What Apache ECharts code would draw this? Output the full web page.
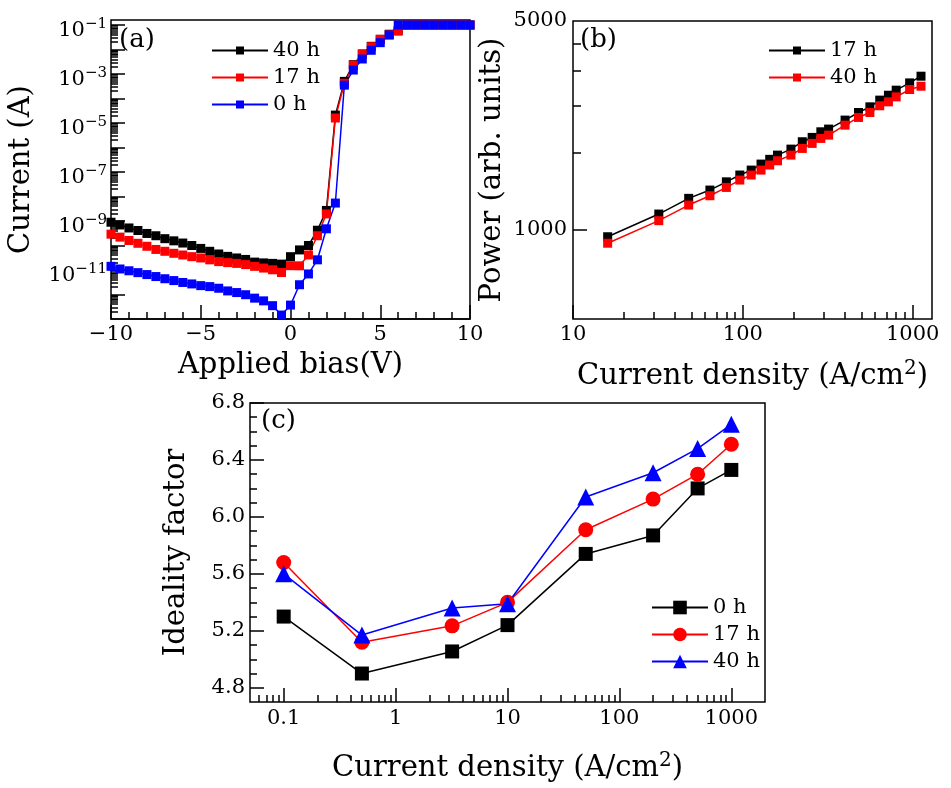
<!DOCTYPE html>
<html><head><meta charset="utf-8">
<script src="https://cdn.jsdelivr.net/npm/echarts@6/dist/echarts.min.js"></script>
<style>html,body{margin:0;padding:0;background:#fff}#c{width:951px;height:788px}</style>
</head><body><div id="c"></div>
<script>
// ---------- data: panel (a) I-V ----------
const aV = [-10,-9.5,-9,-8.5,-8,-7.5,-7,-6.5,-6,-5.5,-5,-4.5,-4,-3.5,-3,-2.5,-2,-1.5,-1,-0.5,
            0,0.5,1,1.5,2,2.5,3,3.5,4,4.5,5,5.5,6,6.5,7,7.5,8,8.5,9,9.5,10];
const aI40 = [8.9e-10,6.9e-10,5.2e-10,4.1e-10,3.1e-10,2.5e-10,1.9e-10,1.55e-10,1.26e-10,1.0e-10,
              7.6e-11,5.8e-11,4.5e-11,3.6e-11,3.1e-11,2.7e-11,2.1e-11,1.95e-11,1.86e-11,1.74e-11,
              3.5e-11,6.6e-11,1.0e-10,4.2e-10,2.7e-9,2.1e-5,5.0e-4,2.4e-3,6.6e-3,1.35e-2,2.6e-2,4.2e-2,6.0e-2,
              0.1,0.1,0.1,0.1,0.1,0.1,0.1,0.1];
const aI17 = [2.9e-10,2.2e-10,1.6e-10,1.23e-10,9.3e-11,6.9e-11,5.8e-11,4.8e-11,4.1e-11,3.5e-11,
              3.1e-11,2.6e-11,2.2e-11,2.0e-11,1.86e-11,1.66e-11,1.41e-11,1.2e-11,1.02e-11,7.9e-12,
              1.5e-11,1.48e-11,4.1e-11,2.5e-10,1.95e-9,1.6e-5,4.2e-4,2.3e-3,6.3e-3,1.3e-2,2.6e-2,4.0e-2,5.6e-2,
              0.1,0.1,0.1,0.1,0.1,0.1,0.1,0.1];
const aI0  = [1.41e-11,1.1e-11,9.3e-12,7.8e-12,6.5e-12,5.4e-12,4.4e-12,3.7e-12,3.1e-12,2.7e-12,
              2.3e-12,2.1e-12,1.8e-12,1.4e-12,1.2e-12,9.8e-13,7.1e-13,5.5e-13,3.5e-13,1.45e-13,
              3.7e-13,2.5e-12,6.9e-12,2.6e-11,4.8e-10,5.4e-9,3.5e-4,1.45e-3,4.1e-3,9.3e-3,1.9e-2,3.9e-2,
              0.1,0.1,0.1,0.1,0.1,0.1,0.1,0.1,0.1];
const aYLabelExp = [-11,-9,-7,-5,-3,-1];
const aYMajorExp = [-12,-11,-10,-9,-8,-7,-6,-5,-4,-3,-2,-1];

// ---------- data: panel (b) power ----------
const bJ   = [16,32,48,64,80,96,112,128,144,160,192,224,256,288,320,400,480,560,640,720,800,960,1120];
const bP17 = [944,1125,1270,1354,1443,1521,1580,1655,1717,1774,1858,1967,2034,2124,2169,2325,2466,2576,2713,2818,2930,3099,3264];
const bP40 = [898,1069,1206,1296,1382,1463,1521,1580,1643,1698,1774,1868,1942,2018,2070,2236,2373,2466,2597,2677,2782,2945,3021];
const bXTicks = [10,100,1000];
const bYLabels = [1000,5000];
const bYMinor = [1800,2600,3400,4200];

// ---------- data: panel (c) ideality factor ----------
const cJ   = [0.1,0.5,3.2,10,50,200,500,1000];
const cN0  = [5.30,4.90,5.055,5.24,5.74,5.87,6.20,6.33];
const cN17 = [5.68,5.12,5.235,5.40,5.91,6.125,6.30,6.51];
const cN40 = [5.60,5.17,5.36,5.39,6.14,6.31,6.48,6.65];
const cXTicks = [0.1,1,10,100,1000];
const cXLabels = ['0.1','1','10','100','1000'];
const cYTicks = [4.8,5.2,5.6,6.0,6.4,6.8];
const cYMinor = [4.9,5.0,5.1,5.3,5.4,5.5,5.7,5.8,5.9,6.1,6.2,6.3,6.5,6.6,6.7];

// ---------- layout / style ----------
const FF = 'DejaVu Serif';
const TICK = 21, TITLE = 29;
const gA = {left:111, top:20, width:359, height:299};
const gB = {left:573, top:21, width:359, height:298};
const gC = {left:250, top:403, width:515, height:299};
const lg = Math.log10;
const MINUS = '\u2212';
const tickLine = {color:'#000', width:1.5};

function logMinors(nFrom, nTo, lo, hi) {
  const out = [];
  for (let n = nFrom; n <= nTo; n++) for (let k = 2; k <= 9; k++) {
    const v = n + lg(k);
    if (v > lo + 1e-9 && v < hi - 1e-9) out.push(v);
  }
  return out;
}
function grid(r, show) {
  return Object.assign({show: show, borderColor:'#000', borderWidth:1.5,
    backgroundColor:'transparent', containLabel:false, outerBoundsMode:'none'}, r);
}
const hidden = (gi) => ({type:'value', gridIndex:gi, show:false, min:0, max:1, axisLine:{onZero:false}});
function tickAxis(gi, min, max, ticks, len, extra) {
  return Object.assign({
    type:'value', gridIndex:gi, min:min, max:max,
    axisLine:{show:false, onZero:false}, splitLine:{show:false},
    axisTick:{show:true, inside:true, length:len, customValues:ticks, lineStyle:tickLine},
    axisLabel:{show:false}
  }, extra || {});
}
const nameStyle = {fontFamily:FF, fontSize:TITLE, color:'#000',
  rich:{t:{fontFamily:FF, fontSize:TITLE, color:'#000'}, s:{fontFamily:FF, fontSize:20, color:'#000', verticalAlign:'top', lineHeight:34}}};
const cmName = '{t|Current density (A/cm}{s|2}{t|)}';

const aMin = 1e-13, aMax = 0.16;
const bXMin = 10, bXMax = 1300, bYMin = 500, bYMax = 5000;
const cXMin = 0.05, cXMax = 2000, cYMin = 4.7, cYMax = 6.8;

function lineSeries(name, xi, yi, data, color, symbol, size) {
  return {type:'line', name:name, xAxisIndex:xi, yAxisIndex:yi, data:data,
    symbol:symbol, symbolSize:size, showSymbol:true, clip:false,
    itemStyle:{color:color}, lineStyle:{color:color, width:1.5},
    emphasis:{disabled:true}, animation:false};
}
const pairs = (xs, ys) => xs.map((x, i) => [x, ys[i]]);

const legendBase = {orient:'vertical', itemWidth:56, itemGap:6, selectedMode:false,
  textStyle:{fontFamily:FF, fontSize:21, color:'#000', lineHeight:21},
  formatter: n => n.slice(2)};
const panelTitle = {fontFamily:FF, fontSize:26, fontWeight:'normal', color:'#000'};

const option = {
  animation:false,
  backgroundColor:'#fff',
  textStyle:{fontFamily:FF},
  title:[
    {text:'(a)', left:119, top:27, padding:0, textStyle:panelTitle},
    {text:'(b)', left:580, top:27, padding:0, textStyle:panelTitle},
    {text:'(c)', left:261, top:408, padding:0, textStyle:panelTitle}
  ],
  legend:[
    Object.assign({}, legendBase, {left:206, top:35, itemHeight:10, data:['a|40 h','a|17 h','a|0 h']}),
    Object.assign({}, legendBase, {left:763, top:35, itemHeight:10, data:['b|17 h','b|40 h']}),
    Object.assign({}, legendBase, {left:646, top:592, itemHeight:17, data:['c|0 h','c|17 h','c|40 h']})
  ],
  grid:[grid(gA,true), grid(gA,false), grid(gA,false),
        grid(gB,true), grid(gB,false), grid(gB,false),
        grid(gC,true), grid(gC,false), grid(gC,false)],
  xAxis:[
    {type:'value', gridIndex:0, min:-10, max:10, interval:5,
     axisLine:{show:true, onZero:false, lineStyle:tickLine},
     axisTick:{show:true, inside:true, length:14, lineStyle:tickLine},
     minorTick:{show:true, splitNumber:5, length:7, lineStyle:tickLine},
     splitLine:{show:false}, minorSplitLine:{show:false},
     axisLabel:{color:'#000', fontFamily:FF, fontSize:TICK, margin:5,
       formatter: v => v < 0 ? MINUS + (-v) : String(v)},
     name:'Applied bias(V)', nameLocation:'middle', nameGap:32, nameTextStyle:nameStyle},
    hidden(1), hidden(2),
    {type:'log', gridIndex:3, min:bXMin, max:bXMax, show:false, axisLine:{onZero:false}},
    tickAxis(4, lg(bXMin), lg(bXMax), bXTicks.map(lg), 14, {
      axisLabel:{show:true, customValues:bXTicks.map(lg), color:'#000', fontFamily:FF, fontSize:TICK, margin:5,
        formatter: v => String(bXTicks[bXTicks.map(lg).findIndex(t => Math.abs(t - v) < 1e-6)])},
      name:cmName, nameLocation:'middle', nameGap:40, nameTextStyle:nameStyle}),
    tickAxis(5, lg(bXMin), lg(bXMax), logMinors(1, 3, lg(bXMin), lg(bXMax)), 7),
    {type:'log', gridIndex:6, min:cXMin, max:cXMax, show:false, axisLine:{onZero:false}},
    tickAxis(7, lg(cXMin), lg(cXMax), cXTicks.map(lg), 14, {
      axisLabel:{show:true, customValues:cXTicks.map(lg), color:'#000', fontFamily:FF, fontSize:TICK, margin:6,
        formatter: v => cXLabels[cXTicks.map(lg).findIndex(t => Math.abs(t - v) < 1e-6)]},
      name:cmName, nameLocation:'middle', nameGap:49, nameTextStyle:nameStyle}),
    tickAxis(8, lg(cXMin), lg(cXMax), logMinors(-2, 3, lg(cXMin), lg(cXMax)), 7)
  ],
  yAxis:[
    {type:'log', gridIndex:0, min:aMin, max:aMax, show:false, axisLine:{onZero:false}},
    tickAxis(1, lg(aMin), lg(aMax), aYMajorExp, 14, {
      axisLabel:{show:true, customValues:aYLabelExp, color:'#000', margin:4, padding:[8,0,0,0],
        formatter: v => '{b|10}{s|' + MINUS + Math.abs(Math.round(v)) + '}',
        rich:{b:{fontFamily:FF, fontSize:TICK, color:'#000', verticalAlign:'bottom'},
              s:{fontFamily:FF, fontSize:15, color:'#000', verticalAlign:'bottom', padding:[0,0,10,0]}}},
      name:'Current (A)', nameLocation:'middle', nameGap:75, nameTextStyle:{fontFamily:FF, fontSize:TITLE, color:'#000'}}),
    tickAxis(2, lg(aMin), lg(aMax), logMinors(-13, -1, lg(aMin), lg(aMax)), 7),
    {type:'log', gridIndex:3, min:bYMin, max:bYMax, show:false, axisLine:{onZero:false}},
    tickAxis(4, lg(bYMin), lg(bYMax), [lg(1000)], 14, {
      axisLabel:{show:true, customValues:bYLabels.map(lg), color:'#000', fontFamily:FF, fontSize:TICK, margin:6,
        formatter: v => String(bYLabels[bYLabels.map(lg).findIndex(t => Math.abs(t - v) < 1e-6)])},
      name:'Power (arb. units)', nameLocation:'middle', nameGap:66, nameTextStyle:{fontFamily:FF, fontSize:TITLE, color:'#000'}}),
    tickAxis(5, lg(bYMin), lg(bYMax), bYMinor.map(lg), 8),
    {type:'value', gridIndex:6, min:cYMin, max:cYMax,
     axisLine:{show:false, onZero:false}, splitLine:{show:false},
     axisTick:{show:true, inside:true, length:14, customValues:cYTicks, lineStyle:tickLine},
     axisLabel:{show:true, customValues:cYTicks, color:'#000', fontFamily:FF, fontSize:TICK, margin:5,
       formatter: v => v.toFixed(1)},
     name:'Ideality factor', nameLocation:'middle', nameGap:59, nameTextStyle:{fontFamily:FF, fontSize:TITLE, color:'#000'}},
    tickAxis(7, cYMin, cYMax, cYMinor, 7),
    hidden(8)
  ],
  series:[
    lineSeries('a|40 h', 0, 0, pairs(aV, aI40), '#000000', 'rect', 9),
    lineSeries('a|17 h', 0, 0, pairs(aV, aI17), '#ff0000', 'rect', 9),
    lineSeries('a|0 h',  0, 0, pairs(aV, aI0),  '#0000ff', 'rect', 9),
    lineSeries('b|17 h', 3, 3, pairs(bJ, bP17), '#000000', 'rect', 9),
    lineSeries('b|40 h', 3, 3, pairs(bJ, bP40), '#ff0000', 'rect', 9),
    lineSeries('c|0 h',  6, 6, pairs(cJ, cN0),  '#000000', 'rect', 14),
    lineSeries('c|17 h', 6, 6, pairs(cJ, cN17), '#ff0000', 'circle', 15),
    lineSeries('c|40 h', 6, 6, pairs(cJ, cN40), '#0000ff', 'triangle', 17)
  ]
};
const chart = echarts.init(document.getElementById('c'));
chart.setOption(option);
</script></body></html>
